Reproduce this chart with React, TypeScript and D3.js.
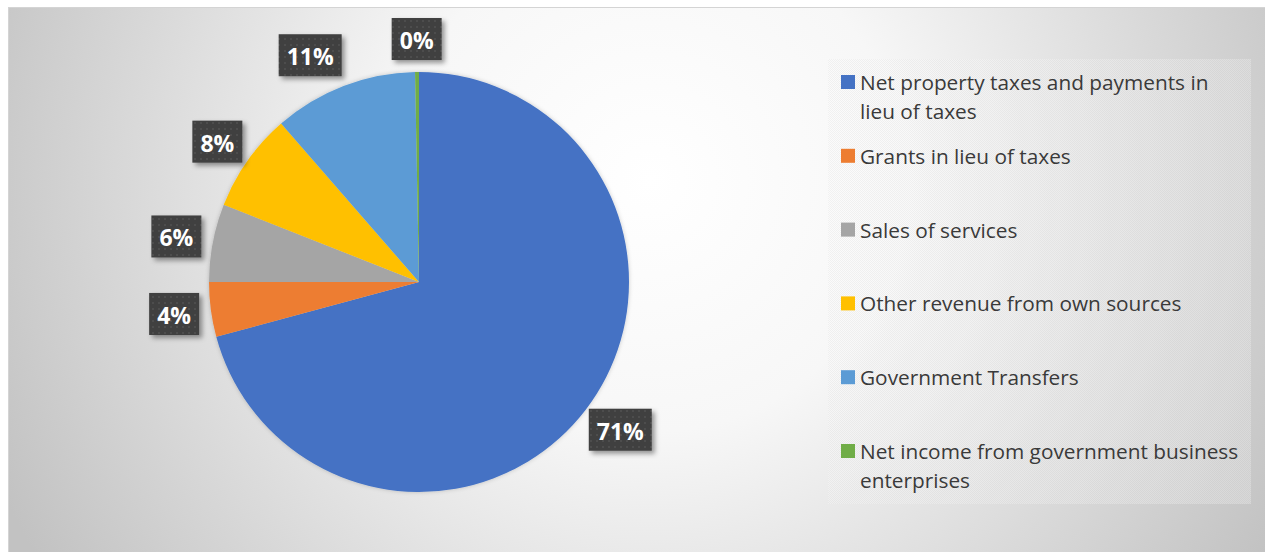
import React from "react";
import * as d3 from "d3";

const categories = [
  "Net property taxes and payments in lieu of taxes",
  "Grants in lieu of taxes",
  "Sales of services",
  "Other revenue from own sources",
  "Government Transfers",
  "Net income from government business enterprises",
];
const legendLines = [
  ["Net property taxes and payments in", "lieu of taxes"],
  ["Grants in lieu of taxes"],
  ["Sales of services"],
  ["Other revenue from own sources"],
  ["Government Transfers"],
  ["Net income from government business", "enterprises"],
];
const values = [70.8, 4.2, 6.0, 7.6, 11.1, 0.3];
const colors = ["#4472C4", "#ED7D31", "#A5A5A5", "#FFC000", "#5B9BD5", "#70AD47"];

const W = 1265;
const H = 552;
const cx = 419;
const cy = 282;
const R = 210;
const labelR = 222;
const boxH = 42;

export default function App() {
  const total = d3.sum(values);
  const pie = d3.pie<number>().sort(null).value((d) => d)(values);
  const arc = d3.arc<d3.PieArcDatum<number>>().innerRadius(0).outerRadius(R);
  const legendY = d3.scalePoint<number>().domain(d3.range(categories.length)).range([82, 451]);

  const labels = pie.map((p, i) => {
    const text = d3.format(".0%")(values[i] / total);
    const w = text.length > 2 ? 63 : 50;
    const mid = (p.startAngle + p.endAngle) / 2;
    const px = cx + Math.sin(mid) * labelR;
    const py = cy - Math.cos(mid) * labelR;
    const x = px + Math.sin(mid) * (w / 2);
    const y = py - Math.cos(mid) * (boxH / 2);
    return { text, w, x, y };
  });

  // simple collision avoidance: keep a horizontal clearance between neighbouring labels
  const clearance = 50;
  for (let i = labels.length - 1; i > 0; i--) {
    const a = labels[i];
    const b = labels[i - 1];
    if (Math.abs(a.y - b.y) < boxH) {
      const gap = a.x - a.w / 2 - (b.x + b.w / 2);
      if (gap < clearance && gap > -clearance) b.x -= clearance - gap;
    }
  }

  return (
    <svg
      width={W}
      height={H}
      style={{ position: "absolute", left: 0, top: 0 }}
      fontFamily="'Open Sans', sans-serif"
    >
      <defs>
        <radialGradient id="bg" gradientUnits="userSpaceOnUse" cx={650} cy={180} r={720}>
          <stop offset="0" stopColor="#ffffff" />
          <stop offset="0.35" stopColor="#f7f7f7" />
          <stop offset="1" stopColor="#c2c2c2" />
        </radialGradient>
        <pattern id="dots" width={6} height={6} patternUnits="userSpaceOnUse">
          <rect width={6} height={6} fill="#3f3f3f" />
          <rect x={2} y={2} width={2} height={2} fill="#4e4e4e" />
        </pattern>
        <pattern id="check" width={2} height={2} patternUnits="userSpaceOnUse">
          <rect width={1} height={1} fill="#000" fillOpacity={0.04} />
          <rect x={1} y={1} width={1} height={1} fill="#000" fillOpacity={0.04} />
        </pattern>
        <filter id="boxShadow" x="-30%" y="-30%" width="170%" height="170%">
          <feDropShadow dx={3} dy={3} stdDeviation={2.5} floodColor="#000" floodOpacity={0.4} />
        </filter>
        <filter id="pieShadow" x="-10%" y="-10%" width="120%" height="120%">
          <feDropShadow dx={0} dy={0} stdDeviation={2} floodColor="#000" floodOpacity={0.2} />
        </filter>
      </defs>

      <rect x={0} y={0} width={W} height={H} fill="#ffffff" />
      <rect x={8.5} y={7.5} width={W} height={H} fill="url(#bg)" stroke="#d4d4d4" />

      <g transform={`translate(${cx},${cy})`} filter="url(#pieShadow)">
        {pie.map((p, i) => (
          <path key={i} d={arc(p) || ""} fill={colors[i]} />
        ))}
      </g>

      {labels.map((l, i) => (
        <g key={i}>
          <rect
            x={l.x - l.w / 2}
            y={l.y - boxH / 2}
            width={l.w}
            height={boxH}
            fill="url(#dots)"
            filter="url(#boxShadow)"
          />
          <text
            x={l.x}
            y={l.y + 1}
            textAnchor="middle"
            dominantBaseline="central"
            fill="#ffffff"
            fontWeight="bold"
            fontSize={23}
          >
            {l.text}
          </text>
        </g>
      ))}

      <g>
        <rect x={828} y={59} width={423} height={445} fill="#ffffff" fillOpacity={0.3} />
        <rect x={828} y={59} width={423} height={445} fill="url(#check)" />
        {categories.map((c, i) => {
          const y0 = legendY(i) as number;
          return (
            <g key={c}>
              <rect x={841} y={y0 - 7} width={14} height={14} fill={colors[i]} />
              {legendLines[i].map((line, j) => (
                <text
                  key={j}
                  x={860}
                  y={y0 + j * 29}
                  dominantBaseline="central"
                  fontSize={20.8}
                  fill="#3a3a3a"
                >
                  {line}
                </text>
              ))}
            </g>
          );
        })}
      </g>
    </svg>
  );
}
